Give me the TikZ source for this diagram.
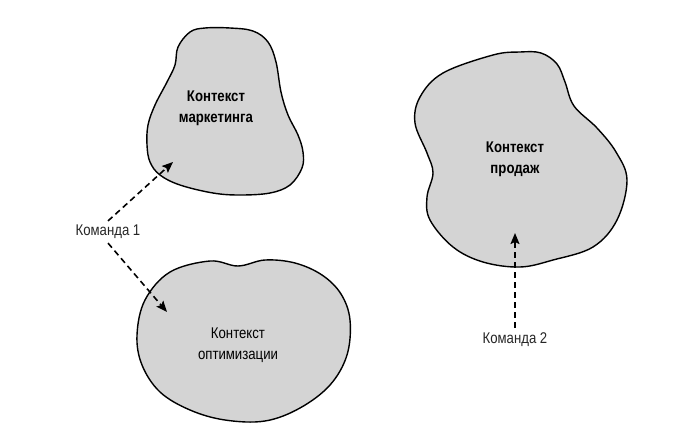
\documentclass[tikz,border=0pt]{standalone}
\usepackage{fontspec}
\setmainfont{Liberation Sans}[FakeStretch=0.85]
\usepackage{tikz}
\usetikzlibrary{arrows.meta}
\definecolor{ctxgray}{RGB}{212,212,212}

\begin{document}
\begin{tikzpicture}[x=1pt,y=-1pt,
	context/.style={draw=black,line width=1.4pt,fill=ctxgray},
	ctxname/.style={align=center,font=\fontsize{15.5}{21}\selectfont},
	team/.style={font=\fontsize{15.5}{18}\selectfont,text=black!85,inner sep=1pt},
	depends/.style={line width=1.6pt,dash pattern=on 6pt off 4pt,
		-{Stealth[length=11pt,width=9pt,inset=2pt]}}]

			\useasboundingbox (0,0) rectangle (693,437);

			% bounded contexts
			\draw[context] plot[smooth cycle,tension=0.6] coordinates {
				(230,28) (253,31) (268,42) (276,62) (281,92) (288,115) (298,135)
				(303,152) (302,168) (290,185) (270,193) (240,195) (213,193)
				(180,185) (160,175) (150,162) (147,145) (148,125) (155,105)
				(167,82) (175,65) (178,47) (190,32) (205,28)};
			\draw[context] plot[smooth cycle,tension=0.6] coordinates {
				(170,272) (210,261) (238,266) (265,260) (295,263)
				(322,275) (341,294) (350,320) (347,355) (330,385) (300,408)
				(265,421) (225,420) (190,410) (160,392) (142,365) (137,335)
				(145,300)};
			\draw[context] plot[smooth cycle,tension=0.6] coordinates {
				(493,55) (520,52) (541,53) (557,64) (565,82) (574,106) (597,128)
				(616,152) (627,180) (617,220) (593,247) (553,260) (520,267)
				(483,262) (453,247) (430,220) (427,197) (433,173) (427,153)
				(415,123) (420,97) (443,73)};

			\node[ctxname] (mkt) at (216,108) {\textbf{Контекст}\\\textbf{маркетинга}};
			\node[ctxname] (opt) at (238,345) {Контекст\\оптимизации};
			\node[ctxname] (sales) at (515,159) {\textbf{Контекст}\\\textbf{продаж}};

			% teams
			\node[team] (team1) at (108,232) {Команда 1};
			\node[team] (team2) at (515,340) {Команда 2};

			\coordinate (mktin) at (173,162);
			\coordinate (optin) at (167,312);
			\coordinate (salesin) at (515,233);

			\draw[depends] ([yshift=3pt]team1.north) -- (mktin);
			\draw[depends] ([yshift=-3pt]team1.south) -- (optin);
			\draw[depends] ([yshift=4pt]team2.north) -- (salesin);
		\end{tikzpicture}
\end{document}
